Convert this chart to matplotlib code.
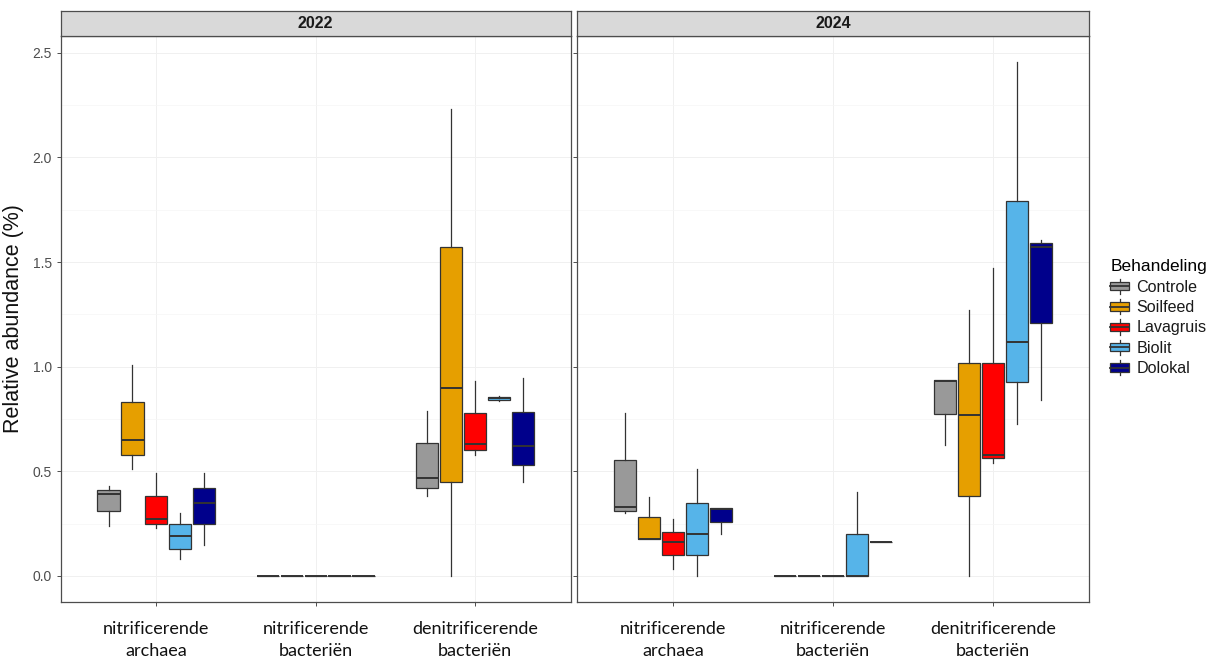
import matplotlib
matplotlib.use("Agg")
import matplotlib.pyplot as plt
from matplotlib.patches import Rectangle
from matplotlib.lines import Line2D
from matplotlib.legend_handler import HandlerBase

plt.rcParams['font.family'] = ['Liberation Sans', 'DejaVu Sans']

years = ['2022', '2024']
categories = ['nitrificerende\narchaea', 'nitrificerende\nbacteriën', 'denitrificerende\nbacteriën']
treatments = ['Controle', 'Soilfeed', 'Lavagruis', 'Biolit', 'Dolokal']
colors = ['#999999', '#E69F00', '#FF0000', '#56B4E9', '#00008B']

# rows = categories, columns = treatments
low_2022 = [[0.24, 0.51, 0.23, 0.08, 0.15], [0, 0, 0, 0, 0], [0.38, 0.00, 0.58, 0.835, 0.45]]
q1_2022 = [[0.31, 0.58, 0.25, 0.13, 0.25], [0, 0, 0, 0, 0], [0.42, 0.45, 0.60, 0.84, 0.53]]
med_2022 = [[0.39, 0.65, 0.27, 0.19, 0.35], [0, 0, 0, 0, 0], [0.47, 0.90, 0.63, 0.85, 0.62]]
q3_2022 = [[0.41, 0.83, 0.38, 0.25, 0.42], [0, 0, 0, 0, 0], [0.635, 1.57, 0.78, 0.855, 0.785]]
high_2022 = [[0.43, 1.01, 0.49, 0.30, 0.49], [0, 0, 0, 0, 0], [0.79, 2.23, 0.93, 0.86, 0.946]]

low_2024 = [[0.30, 0.175, 0.035, 0.00, 0.20], [0, 0, 0, 0, 0.16], [0.624, 0.00, 0.54, 0.726, 0.842]]
q1_2024 = [[0.31, 0.175, 0.10, 0.10, 0.257], [0, 0, 0, 0, 0.16], [0.775, 0.382, 0.562, 0.926, 1.21]]
med_2024 = [[0.33, 0.177, 0.16, 0.20, 0.32], [0, 0, 0, 0, 0.16], [0.93, 0.77, 0.578, 1.12, 1.57]]
q3_2024 = [[0.555, 0.28, 0.21, 0.35, 0.325], [0, 0, 0, 0.20, 0.16], [0.934, 1.018, 1.018, 1.79, 1.59]]
high_2024 = [[0.78, 0.377, 0.27, 0.51, 0.325], [0, 0, 0, 0.40, 0.16], [0.934, 1.27, 1.47, 2.458, 1.605]]

data = {
    '2022': (low_2022, q1_2022, med_2022, q3_2022, high_2022),
    '2024': (low_2024, q1_2024, med_2024, q3_2024, high_2024),
}

W, H = 1209, 660
fig = plt.figure(figsize=(W / 100, H / 100), dpi=100)

panel_px = [(60.7, 570.7), (577.3, 1088.7)]
top_px, bot_px = 36.0, 601.7
strip_top = 11.0
edge = '#333333'
dodge = 0.75
bw = dodge / len(treatments)

axes = []
for pi, yr in enumerate(years):
    x0, x1 = panel_px[pi]
    ax = fig.add_axes([x0 / W, (H - bot_px) / H, (x1 - x0) / W, (bot_px - top_px) / H])
    axes.append(ax)
    low, q1, med, q3, high = data[yr]
    for ci in range(len(categories)):
        for ti in range(len(treatments)):
            pos = ci + 1 - dodge / 2 + bw * (ti + 0.5)
            st = [dict(whislo=low[ci][ti], q1=q1[ci][ti], med=med[ci][ti],
                       q3=q3[ci][ti], whishi=high[ci][ti], fliers=[])]
            ax.bxp(st, positions=[pos], widths=bw * 0.93, patch_artist=True, showcaps=False,
                   showfliers=False,
                   boxprops=dict(facecolor=colors[ti], edgecolor=edge, linewidth=0.9),
                   medianprops=dict(color=edge, linewidth=1.4, solid_capstyle='butt'),
                   whiskerprops=dict(color=edge, linewidth=0.9), manage_ticks=False)
    ax.set_xlim(0.4, 3.6)
    ax.set_ylim(-0.123, 2.58)
    ax.set_xticks([1, 2, 3])
    ax.set_xticklabels(categories, fontsize=13, family=['Lato', 'DejaVu Sans'], color='#111111',
                       linespacing=1.42)
    ax.set_yticks([0, 0.5, 1.0, 1.5, 2.0, 2.5])
    ax.set_yticks([0.25, 0.75, 1.25, 1.75, 2.25], minor=True)
    if pi == 0:
        ax.set_yticklabels(['0.0', '0.5', '1.0', '1.5', '2.0', '2.5'], fontsize=10, color='#4D4D4D')
        ax.set_ylabel('Relative abundance (%)', fontsize=15.5, color='#111111', labelpad=6)
    else:
        ax.tick_params(axis='y', labelleft=False, length=0)
    ax.tick_params(axis='both', which='major', direction='out', length=3, width=0.7, color='#4D4D4D')
    ax.tick_params(axis='y', which='minor', length=0)
    ax.tick_params(axis='x', pad=11)
    ax.grid(True, which='major', color='#F0F0F0', linewidth=0.7)
    ax.grid(True, which='minor', axis='y', color='#F6F6F6', linewidth=0.5)
    ax.set_axisbelow(True)
    for s in ax.spines.values():
        s.set_color('#4D4D4D')
        s.set_linewidth(0.9)
    # strip
    sax = fig.add_axes([x0 / W, (H - top_px) / H, (x1 - x0) / W, (top_px - strip_top) / H])
    sax.set_facecolor('#D9D9D9')
    sax.set_xticks([])
    sax.set_yticks([])
    for s in sax.spines.values():
        s.set_color('#4D4D4D')
        s.set_linewidth(0.9)
    sax.text(0.5, 0.5, yr, ha='center', va='center', fontsize=11.5, fontweight='bold',
             color='#1A1A1A', transform=sax.transAxes)


class BoxKeyHandler(HandlerBase):
    def create_artists(self, legend, orig_handle, xdescent, ydescent, width, height, fontsize, trans):
        fc = orig_handle.get_facecolor()
        bxw = width
        cx = -xdescent + width / 2
        y0 = -ydescent
        rect = Rectangle((cx - bxw / 2, y0 + height * 0.2), bxw, height * 0.6,
                         facecolor=fc, edgecolor=edge, linewidth=0.9, transform=trans)
        med = Line2D([cx - bxw / 2, cx + bxw / 2], [y0 + height * 0.5] * 2, color=edge,
                     linewidth=1.3, transform=trans)
        w1 = Line2D([cx, cx], [y0 - height * 0.05, y0 + height * 0.2], color=edge, linewidth=0.9,
                    transform=trans)
        w2 = Line2D([cx, cx], [y0 + height * 0.8, y0 + height * 1.05], color=edge, linewidth=0.9,
                    transform=trans)
        return [w1, w2, rect, med]


handles = [Rectangle((0, 0), 1, 1, facecolor=c) for c in colors]
leg = fig.legend(handles, treatments, loc='upper left', bbox_to_anchor=(1104 / W, 1 - 253 / H),
                 frameon=False, title='Behandeling', fontsize=11.6, title_fontsize=12.5,
                 handler_map={Rectangle: BoxKeyHandler()}, handlelength=1.15, handleheight=0.95,
                 handletextpad=0.45, labelspacing=0.3, alignment='left', borderaxespad=0)
for t in leg.get_texts():
    t.set_color('#1A1A1A')

fig.savefig('out.png', dpi=100)
